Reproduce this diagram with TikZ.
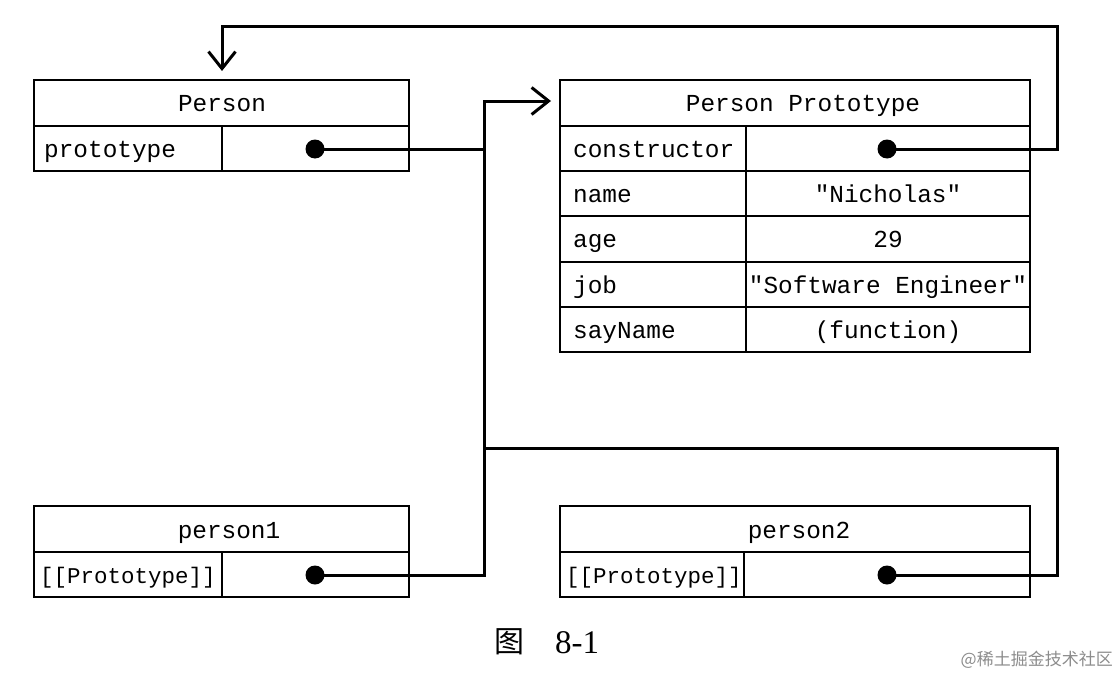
\documentclass[tikz,border=0pt]{standalone}
\usepackage{fontspec}
\setmonofont{Liberation Mono}
\setmainfont{Liberation Serif}
\newfontfamily\cjk{Noto Sans CJK SC}
\usetikzlibrary{arrows.meta}
\begin{document}
\begin{tikzpicture}[x=1pt,y=-1pt,
  box/.style={draw,line width=2.4pt},
  lbl/.style={font=\fontsize{24.4}{27}\selectfont\ttfamily,inner sep=0pt,anchor=base},
  lbw/.style={lbl,anchor=base west},
  lbs/.style={lbw,font=\fontsize{22.5}{25}\selectfont\ttfamily},
  conn/.style={line width=3pt},
  arr/.style={line width=3pt,-{Straight Barb[length=17pt,width=27pt,line width=3pt]}},
  dotn/.style={circle,fill=black,inner sep=0pt,minimum size=19pt}]
\useasboundingbox (0,0) rectangle (1119,677);
% Person
\draw[box] (34,80) rectangle (409,171);
\draw[box] (34,126) -- (409,126) (222,126) -- (222,171);
\node[lbl] (personT) at (222,111) {Person};
\node[lbw] (personP) at (44,157) {prototype};
\node[dotn] (d0) at (315,149) {};
% Prototype
\draw[box] (560,80) rectangle (1030,352);
\foreach \y in {126,171,216,262,307} \draw[box] (560,\y) -- (1030,\y);
\draw[box] (746,126) -- (746,352);
\node[lbl] (protoT) at (803,111) {Person Prototype};
\node[lbw] (r1) at (573,157) {constructor};
\node[lbw] (r2) at (573,202) {name};
\node[lbw] (r3) at (573,247) {age};
\node[lbw] (r4) at (573,293) {job};
\node[lbw] (r5) at (573,338) {sayName};
\node[lbl] (v2) at (888,202) {"Nicholas"};
\node[lbl] (v3) at (888,247) {29};
\node[lbl] (v4) at (888,293) {"Software Engineer"};
\node[lbl] (v5) at (888,338) {(function)};
\node[dotn] (d1) at (887,149) {};
% person1
\draw[box] (34,506) rectangle (409,597);
\draw[box] (34,552) -- (409,552) (222,552) -- (222,597);
\node[lbl] (p1T) at (229,538) {person1};
\node[lbs] (p1P) at (40,583) {[[Prototype]]};
\node[dotn] (d2) at (315,575) {};
% person2
\draw[box] (560,506) rectangle (1030,597);
\draw[box] (560,552) -- (1030,552) (744,552) -- (744,597);
\node[lbl] (p2T) at (799,538) {person2};
\node[lbs] (p2P) at (566,583) {[[Prototype]]};
\node[dotn] (d3) at (887,575) {};
% connectors
\coordinate (tgtP) at (551,101);
\coordinate (tgtA) at (222,71);
\draw[conn] (d0.center) -- (484,149);
\draw[arr] (d2.center) -- (484,575) -- (484,101) -- (tgtP);
\draw[conn] (d3.center) -- (1057,575) -- (1057,448) -- (484,448);
\draw[arr] (d1.center) -- (1057,149) -- (1057,27) -- (222,27) -- (tgtA);
% caption
\node[inner sep=0pt,font=\fontsize{30}{34}\selectfont\cjk] (fig) at (509,642) {图};
\node[inner sep=0pt,font=\fontsize{33}{36}\selectfont] (num) at (577,643) {8-1};
\node[inner sep=0pt,anchor=east,text=black!45,font=\fontsize{17}{20}\selectfont\cjk] (wm) at (1113,660) {@稀土掘金技术社区};
\end{tikzpicture}
\end{document}
